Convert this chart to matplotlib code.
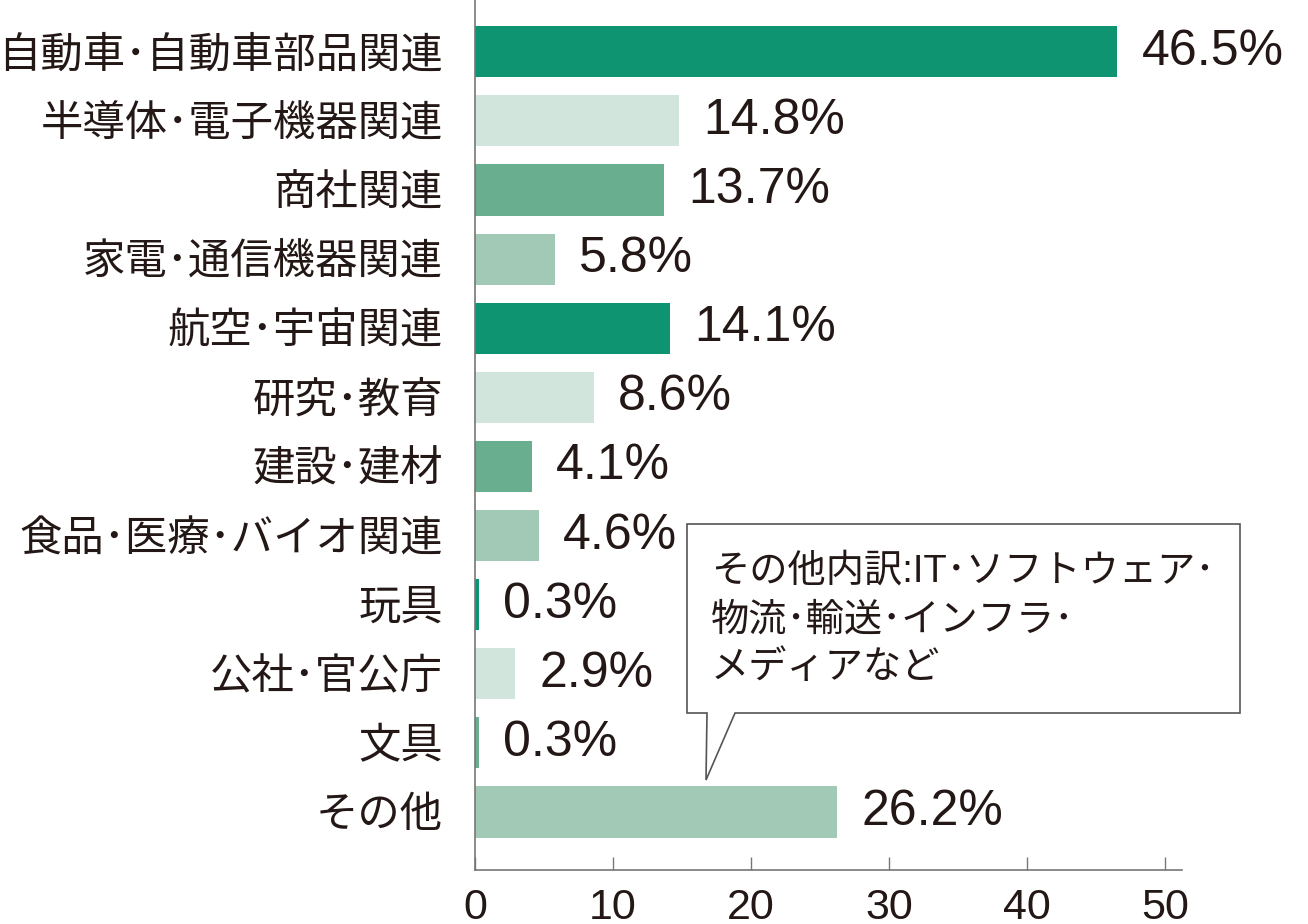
import matplotlib
matplotlib.use("Agg")
import matplotlib.pyplot as plt
from matplotlib.patches import Polygon

categories = ["自動車･自動車部品関連", "半導体･電子機器関連", "商社関連", "家電･通信機器関連",
              "航空･宇宙関連", "研究･教育", "建設･建材", "食品･医療･バイオ関連",
              "玩具", "公社･官公庁", "文具", "その他"]
values = [46.5, 14.8, 13.7, 5.8, 14.1, 8.6, 4.1, 4.6, 0.3, 2.9, 0.3, 26.2]
value_labels = ["46.5%", "14.8%", "13.7%", "5.8%", "14.1%", "8.6%", "4.1%", "4.6%",
                "0.3%", "2.9%", "0.3%", "26.2%"]
xticks = [0, 10, 20, 30, 40, 50]
note_lines = ["その他内訳:IT･ソフトウェア･", "物流･輸送･インフラ･", "メディアなど"]

palette = ["#0e9470", "#d2e5dc", "#6aae90", "#a2c8b6"]
colors = [palette[i % 4] for i in range(len(values))]
TXT = "#231815"
FAM = ["Liberation Sans", "Noto Sans CJK JP", "DejaVu Sans"]
plt.rcParams["font.family"] = FAM

W, H = 1308, 924
fig = plt.figure(figsize=(W / 100, H / 100), dpi=100)
ax = fig.add_axes([475 / W, 1 - 870 / H, (1182 - 475) / W, 870 / H])

ypos = list(range(len(values)))
ax.barh(ypos, values, height=0.74, color=colors, edgecolor="none")
ax.set_ylim(len(values) - 1 + 0.84, -0.75)
ax.set_xlim(0, 51.2)

for y, v, lab in zip(ypos, values, value_labels):
    ax.annotate(lab, (v, y), xytext=(17.5, 0), textcoords="offset points",
                ha="left", va="center", fontsize=36, color=TXT, family=FAM)

ax.set_yticks(ypos)
ax.set_yticklabels(categories, fontsize=30.5, color=TXT, family=FAM)
ax.tick_params(axis="y", length=0, pad=23)
ax.set_xticks(xticks)
ax.set_xticklabels([str(t) for t in xticks], fontsize=31, color=TXT, family=FAM)
ax.tick_params(axis="x", direction="in", length=9.5, width=1, color="#777777", pad=13)

for s in ["top", "right"]:
    ax.spines[s].set_visible(False)
for s in ["left", "bottom"]:
    ax.spines[s].set_color("#777777")
    ax.spines[s].set_linewidth(1.2)

# callout box
pts_px = [(687, 524), (1240, 524), (1240, 713), (735, 713), (706, 780), (707, 713), (687, 713)]
pts = [(x / W, 1 - y / H) for x, y in pts_px]
fig.patches.append(Polygon(pts, closed=True, transform=fig.transFigure,
                           facecolor="white", edgecolor="#555555", linewidth=1.2))
for i, line in enumerate(note_lines):
    fig.text(711 / W, 1 - (572 + 48 * i) / H, line, fontsize=27.5, color=TXT,
             ha="left", va="center", family=FAM)

fig.savefig("out.png", dpi=100)
